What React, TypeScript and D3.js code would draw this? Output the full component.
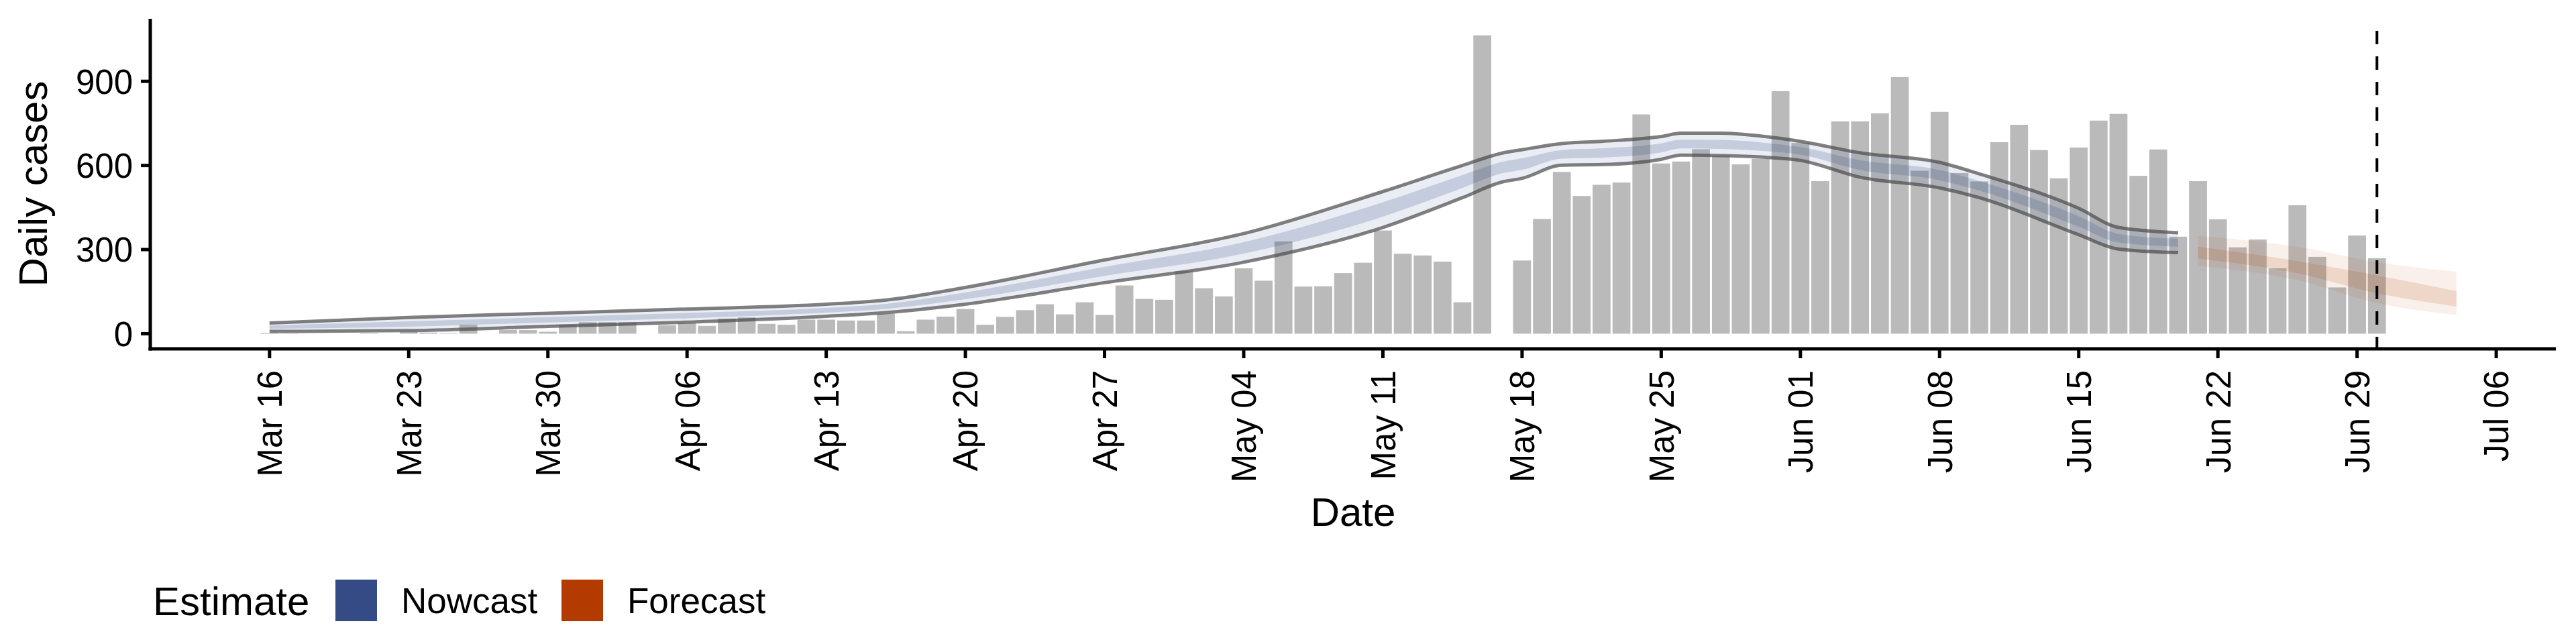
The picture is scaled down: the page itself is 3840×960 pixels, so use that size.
import React from "react";
import * as d3 from "d3";

const startDate = new Date(2020, 2, 16);
const caseValues = [
  3, 1, 0, 0, 0, 2, 0, 7, 4, 2, 32, 0, 13, 13, 7, 32, 41, 41, 41, 0, 30, 37, 28, 54, 58, 35, 32, 50, 50, 47, 47,
  71, 9, 50, 61, 88, 32, 60, 84, 105, 69, 112, 67, 172, 124, 121, 223, 162, 133, 233, 189,
  329, 168, 169, 216, 253, 368, 285, 279, 257, 112, 1064, 0, 261, 409, 577, 491, 531, 539, 782, 607,
  614, 658, 635, 604,
  624, 865, 680, 544, 757, 757, 786, 915, 581, 791, 573, 543, 683, 745, 655, 554, 664, 760, 784, 563,
  657, 346, 544, 408, 308, 336, 233, 458, 274, 165, 350, 269,
];

const nowcastDays = [0, 7, 14, 21, 28, 31, 35, 42, 49, 56, 60, 62, 63, 65, 67, 70, 71, 73, 75, 77, 80, 84, 86, 91, 93, 96];
const nowcastUpper = [38, 58, 73, 88, 105, 120, 165, 263, 357, 507, 600, 644, 656, 678, 686, 703, 715, 715, 705, 686, 645, 611, 570, 447, 379, 360];
const nowcastLower = [8, 11, 26, 41, 62, 75, 105, 182, 255, 379, 485, 541, 554, 601, 603, 622, 637, 635, 630, 618, 558, 520, 485, 353, 302, 289];

const forecastDays = [97, 102, 106, 110];
const forecastUpper90 = [349, 310, 255, 221];
const forecastLower90 = [242, 191, 109, 67];
const forecastUpper50 = [310, 259, 208, 152];
const forecastLower50 = [268, 216, 144, 97];

const yTicks = [0, 300, 600, 900];
const xTickLabels = ["Mar 16", "Mar 23", "Mar 30", "Apr 06", "Apr 13", "Apr 20", "Apr 27", "May 04", "May 11", "May 18", "May 25", "Jun 01", "Jun 08", "Jun 15", "Jun 22", "Jun 29", "Jul 06"];
const cutoffDay = 106;

const NOW = "#344b85";
const FORE = "#b33b00";
const FONT = "Liberation Sans, Arial, sans-serif";

export default function App() {
  const W = 3840, H = 960;
  const left = 224, right = 3810, top = 28, bottom = 520;
  const day = (n: number) => d3.timeDay.offset(startDate, n);
  const x = d3.scaleTime().domain([day(-5.98), day(115.6)]).range([left, right]);
  const y = d3.scaleLinear().domain([-54, 1123]).range([bottom, top]);
  const bw = (x(day(1)) - x(day(0))) * 0.9;

  const nowPts = nowcastDays.map((d, i) => ({ d, up: nowcastUpper[i], lo: nowcastLower[i] }));
  const fPts = forecastDays.map((d, i) => ({ d, u9: forecastUpper90[i], l9: forecastLower90[i], u5: forecastUpper50[i], l5: forecastLower50[i] }));
  const curve = d3.curveMonotoneX;
  const area = (lo: (p: any) => number, hi: (p: any) => number) =>
    d3.area<any>().x((p) => x(day(p.d))).y0((p) => y(lo(p))).y1((p) => y(hi(p))).curve(curve);
  const line = (f: (p: any) => number) => d3.line<any>().x((p) => x(day(p.d))).y((p) => y(f(p))).curve(curve);

  return (
    <svg width={W} height={H} style={{ position: "absolute", left: 0, top: 0, background: "#fff" }} fontFamily={FONT}>
      {caseValues.map((v, i) =>
        v > 0 ? (
          <rect key={i} x={x(day(i)) - bw / 2} y={y(v)} width={bw} height={y(0) - y(v)} fill="#bababa" />
        ) : null
      )}
      <path d={area((p) => p.lo, (p) => p.up)(nowPts) || ""} fill={NOW} fillOpacity={0.1} />
      <path d={area((p) => p.lo + 0.3 * (p.up - p.lo), (p) => p.lo + 0.7 * (p.up - p.lo))(nowPts) || ""} fill={NOW} fillOpacity={0.2} />
      <path d={line((p) => p.up)(nowPts) || ""} fill="none" stroke="#4a4a4a" strokeOpacity={0.7} strokeWidth={5} />
      <path d={line((p) => p.lo)(nowPts) || ""} fill="none" stroke="#4a4a4a" strokeOpacity={0.7} strokeWidth={5} />
      <path d={area((p) => p.l9, (p) => p.u9)(fPts) || ""} fill={FORE} fillOpacity={0.08} />
      <path d={area((p) => p.l5, (p) => p.u5)(fPts) || ""} fill={FORE} fillOpacity={0.14} />
      <line x1={x(day(cutoffDay))} x2={x(day(cutoffDay))} y1={46} y2={bottom} stroke="#000" strokeWidth={4} strokeDasharray="20 18" />
      {/* axes */}
      <line x1={left} x2={left} y1={top} y2={bottom + 2.5} stroke="#000" strokeWidth={5} />
      <line x1={left - 2.5} x2={right} y1={bottom} y2={bottom} stroke="#000" strokeWidth={5} />
      {yTicks.map((t) => (
        <g key={t}>
          <line x1={left - 14} x2={left} y1={y(t)} y2={y(t)} stroke="#000" strokeWidth={5} />
          <text x={left - 26} y={y(t)} dy="0.36em" textAnchor="end" fontSize={51}>{t}</text>
        </g>
      ))}
      {xTickLabels.map((lab, i) => {
        const xx = x(day(i * 7));
        return (
          <g key={lab}>
            <line x1={xx} x2={xx} y1={bottom} y2={bottom + 14} stroke="#000" strokeWidth={5} />
            <text transform={`translate(${xx},${bottom + 32}) rotate(-90)`} dy="0.36em" textAnchor="end" fontSize={51}>{lab}</text>
          </g>
        );
      })}
      <text transform={`translate(70,${(top + bottom) / 2}) rotate(-90)`} textAnchor="middle" fontSize={60}>Daily cases</text>
      <text x={(left + right) / 2} y={784} textAnchor="middle" fontSize={60}>Date</text>
      {/* legend */}
      <text x={228} y={917} fontSize={60}>Estimate</text>
      <rect x={500} y={864} width={62} height={62} fill={NOW} />
      <text x={598} y={914} fontSize={53}>Nowcast</text>
      <rect x={837} y={864} width={62} height={62} fill={FORE} />
      <text x={935} y={914} fontSize={53}>Forecast</text>
    </svg>
  );
}
